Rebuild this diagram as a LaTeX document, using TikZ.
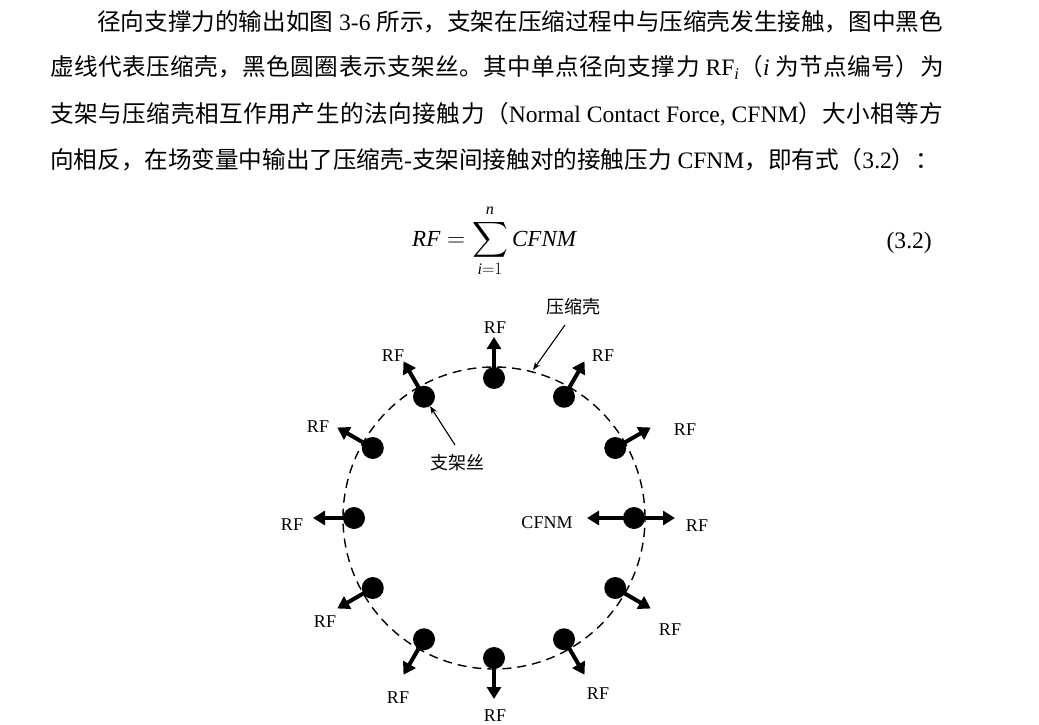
\documentclass[tikz,border=0pt]{standalone}
\usepackage{amsmath}
\usepackage{exscale}
\usepackage{fontspec}
\setmainfont{Liberation Serif}
\newfontfamily\cjk{Noto Sans CJK SC}
\newfontfamily\cjkb{Noto Sans CJK SC}[LetterSpace=2.0]
\newfontfamily\cjkc{Noto Sans CJK SC}[LetterSpace=2.4]
\usetikzlibrary{arrows.meta,calc}
\newcommand\zh[1]{{\cjk #1}}
\newcommand\zhb[1]{{\cjkb #1}}
\newcommand\zhc[1]{{\cjkc #1}}
\tikzset{
  body/.style={anchor=base west, inner sep=0pt, font=\fontsize{23.6}{28}\selectfont},
  dot/.style={circle, fill=black, inner sep=0pt, minimum size=22pt},
  force/.style={line width=4pt, -{Triangle[length=12pt,width=14pt]}},
  lbl/.style={inner sep=0pt, font=\fontsize{18}{20}\selectfont},
  zhlbl/.style={inner sep=0pt, font=\fontsize{18}{20}\selectfont\cjk},
  pointer/.style={line width=1.1pt, -{Stealth[length=8pt,width=6pt]}},
  shell/.style={circle, draw, dash pattern=on 9pt off 6pt, line width=1.4pt, minimum size=302pt, inner sep=0pt}
}
\begin{document}
\begin{tikzpicture}[x=1pt,y=-1pt]
\fill[white] (0,0) rectangle (1039,725);
\useasboundingbox (0,0) rectangle (1039,725);

% paragraph
\node[body] (p1) at (97,31) {\zh{径向支撑力的输出如图} 3-6 \zh{所示，支架在压缩过程中与压缩壳发生接触，图中黑色}};
\node[body] (p2) at (50,76) {\zhb{虚线代表压缩壳，黑色圆圈表示支架丝。其中单点径向支撑力} RF\textsubscript{\textit{i}}\zhb{（}\textit{i} \zhb{为节点编号）为}};
\node[body] (p3) at (50,122) {\zhc{支架与压缩壳相互作用产生的法向接触力（}Normal Contact Force, CFNM\zhc{）大小相等方}};
\node[body] (p4) at (50,168) {\zh{向相反，在场变量中输出了压缩壳}-\zh{支架间接触对的接触压力} CFNM\zh{，即有式（}3.2\zh{）：}};

% equation
\node[anchor=base west, inner sep=0pt, font=\fontsize{23}{28}\selectfont] (eq) at (412,246)
  {$\displaystyle \textit{RF}=\sum_{\textit{i}=1}^{\textit{n}}\textit{CFNM}$};
\node[anchor=base east, inner sep=0pt, font=\fontsize{23.6}{28}\selectfont] (eqn) at (932,248) {(3.2)};

% shell
\node[shell] (shell) at (494,518) {};

% wires and forces
\foreach \i in {0,...,11} {
  \pgfmathsetmacro\ang{\i*30}
  \node[dot] (d\i) at ({494+140*cos(\ang)},{518-140*sin(\ang)}) {};
  \coordinate (t\i) at ({494+181*cos(\ang)},{518-181*sin(\ang)});
  \draw[force] (d\i.center) -- (t\i);
}
\coordinate (c0) at (587,518);
\draw[force] (d0.center) -- (c0);

% labels
\node[lbl] (l0) at (697,526) {RF};
\node[lbl] (l1) at (685,430) {RF};
\node[lbl] (l2) at (603,356) {RF};
\node[lbl] (l3) at (495,328) {RF};
\node[lbl] (l4) at (393,356) {RF};
\node[lbl] (l5) at (318,427) {RF};
\node[lbl] (l6) at (292,525) {RF};
\node[lbl] (l7) at (325,622) {RF};
\node[lbl] (l8) at (398,698) {RF};
\node[lbl] (l9) at (495,716) {RF};
\node[lbl] (l10) at (598,694) {RF};
\node[lbl] (l11) at (670,630) {RF};
\node[lbl] (cf) at (547,523) {CFNM};

% annotations
\node[zhlbl] (lshell) at (573,307) {压缩壳};
\coordinate (a1) at (565,325);
\coordinate (shellpt) at (533,370);
\draw[pointer] (a1) -- (shellpt);
\node[zhlbl] (lwire) at (457,463) {支架丝};
\coordinate (a2) at (455,445);
\draw[pointer] (a2) -- (d4);
\end{tikzpicture}
\end{document}
